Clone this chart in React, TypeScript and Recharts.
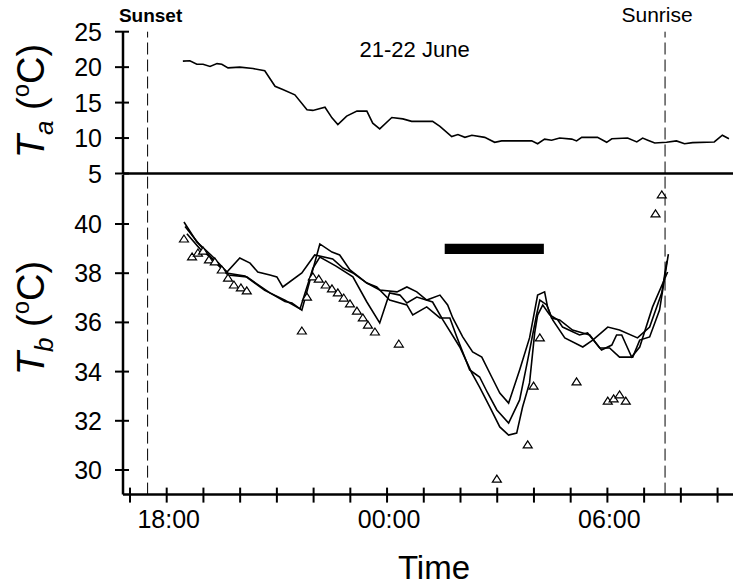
import React from 'react'
import {
  ComposedChart, Line, Scatter, XAxis, YAxis, ReferenceLine, ReferenceArea, Label,
} from 'recharts'

// time is in hours from midnight of 21 June (24 = 00:00, 30 = 06:00)
const hourTicks = [17, 18, 19, 20, 21, 22, 23, 24, 25, 26, 27, 28, 29, 30, 31, 32, 33]
const labelledHours = [18, 24, 30]
const taTicks = [5, 10, 15, 20, 25]
const tbTicks = [30, 32, 34, 36, 38, 40]

const sunsetHour = 17.48
const sunriseHour = 31.57
const torporBar = { start: 25.57, end: 28.27, low: 38.78, high: 39.2 }

const taHours = [18.44, 18.63, 18.82, 18.99, 19.18, 19.37, 19.5, 19.67, 19.99, 20.35, 20.67, 20.95, 21.16, 21.49, 21.82, 21.98, 22.31, 22.5, 22.66, 22.9, 23.18, 23.45, 23.61, 23.8, 24.13, 24.43, 24.67, 25.24, 25.44, 25.76, 25.93, 26.12, 26.31, 26.66, 26.93, 27.12, 27.69, 27.94, 28.1, 28.29, 28.48, 28.7, 29.03, 29.16, 29.3, 29.73, 29.98, 30.12, 30.55, 30.8, 30.96, 31.1, 31.29, 31.61, 31.88, 32.1, 32.32, 32.91, 33.13, 33.31]
const taTemps = [20.85, 20.9, 20.4, 20.4, 20.1, 20.5, 20.4, 19.9, 20.0, 19.8, 19.5, 17.3, 16.85, 16.1, 14.0, 13.9, 14.35, 12.85, 11.9, 13.1, 13.8, 13.8, 12.1, 11.3, 12.9, 12.7, 12.35, 12.35, 11.65, 10.2, 10.5, 10.1, 10.4, 10.1, 9.4, 9.6, 9.6, 9.6, 9.2, 9.85, 9.7, 10.0, 9.85, 9.6, 10.1, 10.1, 9.4, 9.9, 10.0, 9.45, 10.0, 9.7, 9.3, 9.4, 9.6, 9.2, 9.35, 9.45, 10.4, 9.9]

const tbAHours = [18.47, 18.82, 19.26, 19.64, 19.99, 20.27, 20.48, 20.81, 21.0, 21.16, 21.68, 22.03, 22.52, 22.8, 23.07, 23.45, 23.72, 24.07, 24.54, 24.7, 25.08, 25.44, 25.71, 25.9, 26.25, 26.52, 26.74, 26.99, 27.31, 27.61, 27.83, 28.07, 28.16, 28.35, 28.51, 28.84, 29.33, 29.6, 30.01, 30.33, 30.82, 31.15, 31.48, 31.62]
const tbATemps = [40.08, 39.27, 38.66, 38.05, 38.62, 38.41, 38.05, 37.93, 37.85, 37.44, 38.01, 38.74, 38.58, 38.21, 38.01, 37.6, 37.44, 36.91, 36.71, 36.3, 36.63, 36.18, 36.18, 35.41, 34.07, 33.78, 33.13, 32.44, 31.91, 32.85, 34.47, 36.3, 36.91, 36.71, 36.1, 35.37, 35.0, 35.28, 35.81, 35.69, 35.37, 35.81, 37.2, 38.5]

const tbBHours = [18.5, 18.9, 19.31, 19.67, 20.18, 20.81, 21.22, 21.41, 21.68, 22.17, 22.5, 22.71, 22.99, 23.45, 23.8, 24.27, 24.54, 24.81, 25.08, 25.44, 25.65, 25.79, 26.06, 26.33, 26.58, 26.85, 27.07, 27.31, 27.61, 27.88, 28.1, 28.29, 28.37, 28.48, 28.7, 29.05, 29.33, 29.52, 29.79, 30.06, 30.33, 30.69, 30.88, 31.15, 31.42, 31.66]
const tbBTemps = [39.9, 39.15, 38.46, 37.93, 37.85, 37.2, 36.85, 36.79, 36.5, 39.19, 38.86, 38.74, 38.13, 37.6, 37.32, 37.24, 37.44, 37.24, 36.91, 37.11, 36.71, 36.18, 35.41, 34.8, 34.59, 33.78, 33.13, 32.72, 34.07, 35.37, 37.11, 37.24, 36.63, 36.18, 36.1, 35.69, 35.57, 35.49, 34.96, 34.96, 34.59, 34.59, 35.28, 35.41, 36.5, 38.78]

const tbCHours = [18.55, 18.9, 19.31, 19.67, 20.13, 20.67, 21.22, 21.63, 21.98, 22.17, 22.6, 23.07, 23.45, 23.8, 24.07, 24.35, 24.54, 24.81, 25.24, 25.52, 25.98, 26.31, 26.52, 26.8, 27.07, 27.31, 27.53, 27.69, 27.88, 28.02, 28.1, 28.24, 28.43, 28.65, 28.78, 29.24, 29.46, 29.84, 30.12, 30.25, 30.39, 30.66, 30.88, 31.23, 31.64]
const tbCTemps = [39.6, 39.0, 38.5, 38.0, 37.89, 37.3, 36.9, 36.55, 38.2, 38.66, 38.3, 37.85, 36.83, 35.98, 37.2, 37.11, 36.79, 37.03, 36.83, 36.1, 35.0, 33.94, 33.37, 32.56, 31.75, 31.42, 31.5, 32.56, 33.54, 35.57, 36.3, 36.71, 36.3, 36.1, 35.81, 35.49, 35.57, 34.88, 35.08, 35.49, 35.49, 34.59, 35.0, 36.63, 38.05]

// open triangles
const triHours = [18.47, 18.69, 18.85, 18.99, 19.15, 19.31, 19.5, 19.67, 19.83, 20.02, 20.18, 21.68, 21.82, 21.98, 22.14, 22.33, 22.5, 22.66, 22.82, 22.99, 23.18, 23.34, 23.48, 23.67, 24.32, 26.99, 27.83, 27.99, 28.16, 29.16, 30.01, 30.17, 30.33, 30.5, 31.31, 31.48]
const triTemps = [39.39, 38.66, 38.82, 38.9, 38.54, 38.46, 38.13, 37.8, 37.52, 37.4, 37.28, 35.65, 37.03, 37.85, 37.76, 37.52, 37.36, 37.2, 36.99, 36.75, 36.46, 36.18, 35.89, 35.61, 35.12, 29.63, 31.02, 33.41, 35.37, 33.58, 32.8, 32.89, 33.05, 32.8, 40.41, 41.18]

const zip = (hs: number[], vs: number[]) => hs.map((t, i) => ({ t, v: vs[i] }))
const taData = zip(taHours, taTemps)
const tbA = zip(tbAHours, tbATemps)
const tbB = zip(tbBHours, tbBTemps)
const tbC = zip(tbCHours, tbCTemps)
const triData = zip(triHours, triTemps)

const FONT = '"Liberation Sans", Arial, Helvetica, sans-serif'
const W = 733
const H = 586
const xDomain: [number, number] = [16.81, 33.42]

const YTick = (props: any) => {
  const { x, y, payload } = props
  return (
    <g>
      <line x1={x - 8} x2={x + 6} y1={y} y2={y} stroke="#000" strokeWidth={2} />
      <text x={x - 21} y={y} dy="0.36em" textAnchor="end" fontSize={25} fontFamily={FONT} fill="#000">
        {payload.value}
      </text>
    </g>
  )
}

const XTick = (props: any) => {
  const { x, y, payload } = props
  const h = payload.value
  return (
    <g>
      <line x1={x} x2={x} y1={y - 7} y2={y + 8} stroke="#000" strokeWidth={2} />
      {labelledHours.includes(h) && (
        <text x={x + 2} y={y + 33} textAnchor="middle" fontSize={25} fontFamily={FONT} fill="#000">
          {`${String(h % 24).padStart(2, '0')}:00`}
        </text>
      )}
    </g>
  )
}

const Triangle = (props: any) => {
  const { cx, cy } = props
  return (
    <polygon
      points={`${cx},${cy - 4} ${cx - 4.5},${cy + 3} ${cx + 4.5},${cy + 3}`}
      fill="#fff"
      stroke="#000"
      strokeWidth={1.2}
    />
  )
}

const yTitle = (sub: string, cy: number) => () => (
  <text transform={`rotate(-90, 44, ${cy})`} x={44} y={cy} textAnchor="middle" fontSize={38} fontFamily={FONT} fill="#000">
    <tspan fontStyle="italic">T</tspan>
    <tspan fontSize={26} dy={9} fontStyle="italic">{sub}</tspan>
    <tspan dy={-9}> (</tspan>
    <tspan fontSize={24} dy={-15}>o</tspan>
    <tspan dy={15}>C)</tspan>
  </text>
)

export default function App() {
  return (
    <div style={{ position: 'absolute', left: 0, top: 0, width: W, height: H, background: '#fff' }}>
      {/* air temperature panel */}
      <div style={{ position: 'absolute', left: 0, top: 0 }}>
        <ComposedChart width={W} height={H} margin={{ top: 31.7, right: 0, bottom: 412.5, left: 63 }}>
          <XAxis type="number" dataKey="t" domain={xDomain} allowDataOverflow hide />
          <YAxis
            type="number"
            dataKey="v"
            domain={[5, 25]}
            ticks={taTicks}
            width={60}
            allowDataOverflow
            axisLine={{ stroke: '#000', strokeWidth: 2.5 }}
            tickLine={false}
            tickSize={0}
            tickMargin={0}
            tick={<YTick />}
          >
            <Label content={yTitle('a', 101)} />
          </YAxis>
          <ReferenceLine y={5} stroke="#000" strokeWidth={2.5} />
          <ReferenceLine
            x={sunsetHour}
            stroke="#000"
            strokeWidth={1}
            strokeDasharray="12 5"
            label={{
              content: (p: any) => (
                <text x={p.viewBox.x + 3} y={22} textAnchor="middle" fontSize={19} fontWeight="bold" fontFamily={FONT} fill="#000">
                  Sunset
                </text>
              ),
            }}
          />
          <ReferenceLine
            x={sunriseHour}
            stroke="#000"
            strokeWidth={1}
            strokeDasharray="12 5"
            label={{
              content: (p: any) => (
                <text x={p.viewBox.x - 8} y={22} textAnchor="middle" fontSize={21} fontFamily={FONT} fill="#000">
                  Sunrise
                </text>
              ),
            }}
          />
          <ReferenceLine
            x={24.75}
            stroke="none"
            label={{
              content: (p: any) => (
                <text x={p.viewBox.x} y={57} textAnchor="middle" fontSize={22} fontFamily={FONT} fill="#000">
                  21-22 June
                </text>
              ),
            }}
          />
          <Line data={taData} dataKey="v" type="linear" stroke="#000" strokeWidth={1.6} dot={false} isAnimationActive={false} />
        </ComposedChart>
      </div>

      {/* body temperature panel */}
      <div style={{ position: 'absolute', left: 0, top: 0 }}>
        <ComposedChart width={W} height={H} margin={{ top: 174.8, right: 0, bottom: 41.4, left: 63 }}>
          <XAxis
            type="number"
            dataKey="t"
            domain={xDomain}
            ticks={hourTicks}
            allowDataOverflow
            height={50}
            axisLine={{ stroke: '#000', strokeWidth: 2.5 }}
            tickLine={false}
            tickSize={0}
            tickMargin={0}
            tick={<XTick />}
            interval={0}
          >
            <Label
              content={(p: any) => (
                <text x={p.viewBox.x + p.viewBox.width / 2 + 6} y={p.viewBox.y + 84} textAnchor="middle" fontSize={33} fontFamily={FONT} fill="#000">
                  Time
                </text>
              )}
            />
          </XAxis>
          <YAxis
            type="number"
            dataKey="v"
            domain={[29, 42]}
            ticks={tbTicks}
            width={60}
            allowDataOverflow
            axisLine={{ stroke: '#000', strokeWidth: 2.5 }}
            tickLine={false}
            tickSize={0}
            tickMargin={0}
            tick={<YTick />}
          >
            <Label content={yTitle('b', 318)} />
          </YAxis>
          <ReferenceLine x={sunsetHour} stroke="#000" strokeWidth={1} strokeDasharray="12 5" />
          <ReferenceLine x={sunriseHour} stroke="#000" strokeWidth={1} strokeDasharray="12 5" />
          <ReferenceArea
            x1={torporBar.start}
            x2={torporBar.end}
            y1={torporBar.low}
            y2={torporBar.high}
            fill="#000"
            fillOpacity={1}
            stroke="none"
          />
          <Line data={tbA} dataKey="v" type="linear" stroke="#000" strokeWidth={1.6} dot={false} isAnimationActive={false} />
          <Line data={tbB} dataKey="v" type="linear" stroke="#000" strokeWidth={1.6} dot={false} isAnimationActive={false} />
          <Line data={tbC} dataKey="v" type="linear" stroke="#000" strokeWidth={1.6} dot={false} isAnimationActive={false} />
          <Scatter data={triData} dataKey="v" shape={<Triangle />} isAnimationActive={false} />
        </ComposedChart>
      </div>
    </div>
  )
}
